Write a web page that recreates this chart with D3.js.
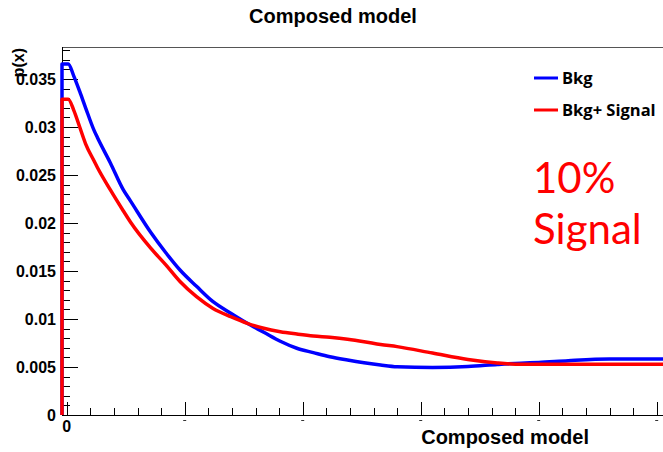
<!DOCTYPE html>
<html>
<head>
<meta charset="utf-8">
<script src="https://cdn.jsdelivr.net/npm/d3@7"></script>
<style>
  html, body { margin: 0; padding: 0; background: #fff; }
  svg { display: block; }
</style>
</head>
<body>
<svg id="chart" width="663" height="452"></svg>
<script>
// ---- data ----
const xValues = [-0.04, 0.013, 0.06, 0.11, 0.16, 0.23, 0.26, 0.37, 0.48, 0.54, 0.71, 0.84, 0.96, 1.10, 1.24, 1.39, 1.53, 1.67, 1.81, 1.95, 2.09, 2.23, 2.38, 2.52, 2.66, 2.80, 3.10, 3.40, 3.65, 3.85, 4.00, 4.25, 4.60, 5.10];
const bkgValues = [0.03656, 0.03656, 0.0353, 0.0337, 0.0320, 0.0297, 0.0289, 0.02625, 0.02344, 0.0223, 0.01906, 0.0169, 0.0151, 0.0134, 0.0118, 0.0106, 0.00955, 0.00862, 0.00768, 0.00695, 0.0065, 0.00607, 0.00573, 0.00545, 0.00521, 0.00503, 0.00496, 0.00505, 0.00526, 0.0054, 0.00547, 0.00566, 0.00583, 0.00583];
const sigValues = [0.03289, 0.03289, 0.03173, 0.0300, 0.02825, 0.0265, 0.02578, 0.02344, 0.02125, 0.0201, 0.0174, 0.01563, 0.0139, 0.01232, 0.0111, 0.01024, 0.00955, 0.00903, 0.00868, 0.00844, 0.00823, 0.00809, 0.00789, 0.00764, 0.00735, 0.00712, 0.00645, 0.00578, 0.00542, 0.00528, 0.00528, 0.00528, 0.00528, 0.00528];
const seriesNames = ["Bkg", "Bkg+ Signal"];
const seriesColors = ["#0000ff", "#ff0000"];
const yTickValues = [0, 0.005, 0.01, 0.015, 0.02, 0.025, 0.03, 0.035];
const yTickLabels = ["0", "0.005", "0.01", "0.015", "0.02", "0.025", "0.03", "0.035"];
const xTickValues = [0, 1, 2, 3, 4, 5];
const xTickLabels = ["0"];
const titleText = "Composed model";
const xAxisTitle = "Composed model";
const yAxisTitle = "p(x)";
const annotation = ["10%", "Signal"];

(function () {
// ---- layout ----
const svg = d3.select("#chart");
const pL = 62, pR = 668.5, pT = 47, pB = 415;
const xMin = -0.04, xMax = 5.1, yMax = 0.03833;
const x = d3.scaleLinear().domain([xMin, xMax]).range([pL, pR]);
const y = d3.scaleLinear().domain([0, yMax]).range([pB, pT]);

svg.append("rect").attr("width", 663).attr("height", 452).attr("fill", "#fff");

// frame
svg.append("rect")
  .attr("x", pL + 0.5).attr("y", pT + 0.5)
  .attr("width", pR - pL).attr("height", pB - pT)
  .attr("fill", "none").attr("stroke", "#555").attr("stroke-width", 1);

// y axis
const gy = svg.append("g");
gy.append("line").attr("x1", pL + 0.5).attr("x2", pL + 0.5).attr("y1", pT).attr("y2", pB)
  .attr("stroke", "#000");
d3.range(0, 39).forEach(i => {
  const v = i * 0.001;
  const major = i % 5 === 0;
  gy.append("line")
    .attr("x1", pL).attr("x2", pL + (major ? 16 : 8))
    .attr("y1", Math.round(y(v)) + 0.5).attr("y2", Math.round(y(v)) + 0.5)
    .attr("stroke", "#000").attr("stroke-width", 1);
});
yTickValues.forEach((v, i) => {
  gy.append("text")
    .attr("x", 56).attr("y", y(v))
    .attr("dy", "0.36em")
    .attr("text-anchor", "end")
    .attr("font-family", "Liberation Sans, Arial, sans-serif")
    .attr("font-weight", "bold").attr("font-size", 16)
    .attr("fill", "#000")
    .text(yTickLabels[i]);
});

// x axis
const gx = svg.append("g");
gx.append("line").attr("x1", pL).attr("x2", pR).attr("y1", pB + 0.5).attr("y2", pB + 0.5)
  .attr("stroke", "#000");
d3.range(0, 26).forEach(i => {
  const v = i * 0.2;
  const major = i % 5 === 0;
  gx.append("line")
    .attr("x1", Math.round(x(v)) + 0.5).attr("x2", Math.round(x(v)) + 0.5)
    .attr("y1", pB).attr("y2", pB - (major ? 13 : 7))
    .attr("stroke", "#000").attr("stroke-width", 1);
});
xTickValues.forEach((v, i) => {
  if (i < xTickLabels.length) {
    gx.append("text")
      .attr("x", x(v)).attr("y", 432)
      .attr("text-anchor", "middle")
      .attr("font-family", "Liberation Sans, Arial, sans-serif")
      .attr("font-weight", "bold").attr("font-size", 16)
      .attr("fill", "#000")
      .text(xTickLabels[i]);
  } else {
    gx.append("line")
      .attr("x1", x(v) - 1.5).attr("x2", x(v) + 1.5)
      .attr("y1", 420.5).attr("y2", 420.5)
      .attr("stroke", "#333").attr("stroke-width", 1);
  }
});

// curves
svg.append("clipPath").attr("id", "clip").append("rect")
  .attr("x", pL - 2).attr("y", pT).attr("width", pR - pL + 2).attr("height", pB - pT + 2);

const line = d3.line().x(d => x(d[0])).y(d => y(d[1])).curve(d3.curveMonotoneX);
[bkgValues, sigValues].forEach((vals, s) => {
  const pts = xValues.map((xv, i) => [xv, vals[i]]);
  const path = "M" + x(xMin) + "," + y(0) + "L" + line(pts).slice(1);
  svg.append("path")
    .attr("clip-path", "url(#clip)")
    .attr("d", path)
    .attr("fill", "none")
    .attr("stroke", seriesColors[s])
    .attr("stroke-width", 3.5)
    .attr("stroke-linejoin", "round");
});

// titles
svg.append("text")
  .attr("x", 333).attr("y", 23)
  .attr("text-anchor", "middle")
  .attr("font-family", "Liberation Sans, Arial, sans-serif")
  .attr("font-weight", "bold").attr("font-size", 20)
  .attr("fill", "#000")
  .text(titleText);

svg.append("text")
  .attr("x", 589).attr("y", 444)
  .attr("text-anchor", "end")
  .attr("font-family", "Liberation Sans, Arial, sans-serif")
  .attr("font-weight", "bold").attr("font-size", 20)
  .attr("fill", "#000")
  .text(xAxisTitle);

svg.append("text")
  .attr("transform", "translate(24,48) rotate(-90)")
  .attr("text-anchor", "end")
  .attr("font-family", "Liberation Sans, Arial, sans-serif")
  .attr("font-weight", "bold").attr("font-size", 16)
  .attr("fill", "#000")
  .text(yAxisTitle);

// legend
const legendY = [78, 110];
seriesNames.forEach((name, i) => {
  svg.append("line")
    .attr("x1", 534).attr("x2", 558)
    .attr("y1", legendY[i]).attr("y2", legendY[i])
    .attr("stroke", seriesColors[i]).attr("stroke-width", 3);
  svg.append("text")
    .attr("x", 562).attr("y", legendY[i] + 5.5)
    .attr("font-family", "Open Sans, Lato, sans-serif")
    .attr("font-weight", "bold").attr("font-size", 16.5)
    .attr("fill", "#000")
    .text(name);
});

// annotation
const annY = [193, 244];
annotation.forEach((t, i) => {
  svg.append("text")
    .attr("x", 533).attr("y", annY[i])
    .attr("font-family", "Lato, Open Sans, sans-serif")
    .attr("font-size", 42)
    .attr("fill", "#ff0000")
    .text(t);
});
})();
</script>
</body>
</html>
